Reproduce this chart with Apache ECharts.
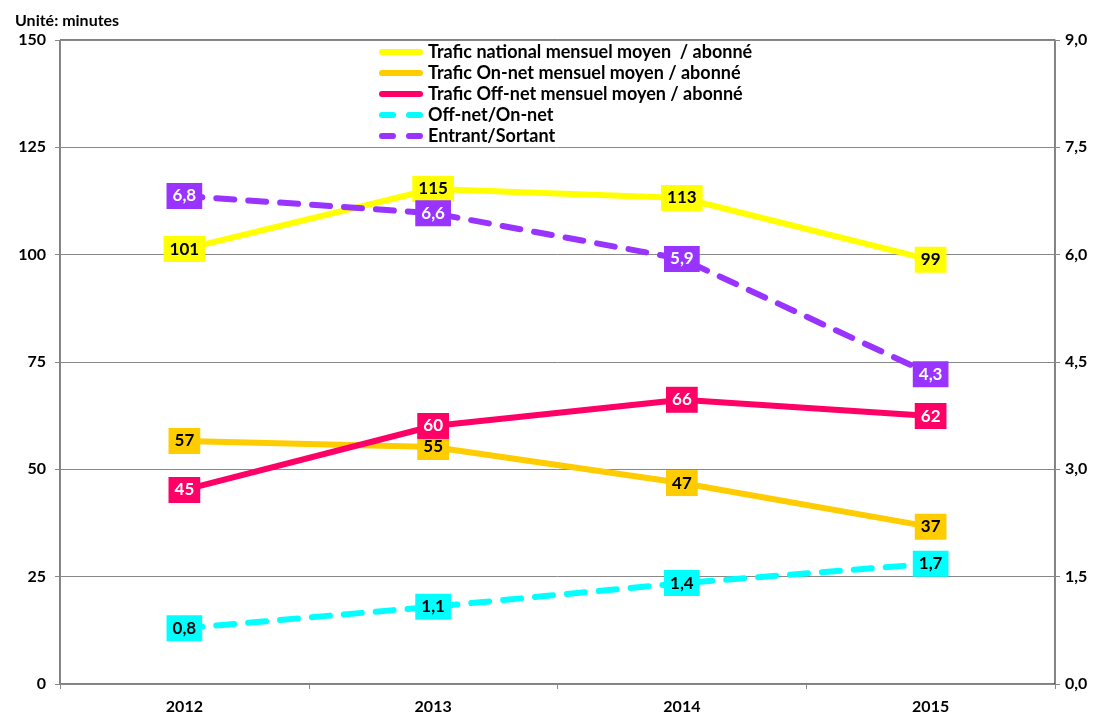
<!DOCTYPE html>
<html><head><meta charset="utf-8">
<script src="https://cdn.jsdelivr.net/npm/echarts@6/dist/echarts.min.js"></script>
<style>html,body{margin:0;padding:0;background:#fff}#c{width:1099px;height:716px}</style>
</head><body><div id="c"></div>
<script>
const categories = ['2012', '2013', '2014', '2015'];
const national = [101.3, 115.3, 113.2, 98.8];
const onNet = [56.6, 55.2, 46.8, 36.6];
const offNet = [45.2, 60.1, 66.2, 62.4];
const offOnRatio = [0.78, 1.08, 1.41, 1.68];
const entrantSortant = [6.82, 6.58, 5.94, 4.33];
const leftTicks = [0, 25, 50, 75, 100, 125, 150];
const rightTicks = [0, 1.5, 3, 4.5, 6, 7.5, 9];

const FONT = 'Lato';
const chart = echarts.init(document.getElementById('c'));

const SOLID_ICON = 'path://M3,0H41A3,3 0 0 1 41,6H3A3,3 0 0 1 3,0Z';
const DASH_ICON = 'path://M3,0H14A3,3 0 0 1 14,6H3A3,3 0 0 1 3,0Z M30,0H41A3,3 0 0 1 41,6H30A3,3 0 0 1 30,0Z';

function lbl(bg, fg, fmt) {
  return {
    show: true, position: 'inside', backgroundColor: bg, color: fg,
    fontFamily: FONT, fontWeight: 'bold', fontSize: 17, lineHeight: 19,
    padding: [4, 6, 3, 6], formatter: fmt
  };
}
const intFmt = p => Math.round(p.value).toString();
const decFmt = p => p.value.toFixed(1).replace('.', ',');

function series(name, data, color, textColor, dashed, yIdx, fmt) {
  return {
    name, type: 'line', data, yAxisIndex: yIdx,
    symbol: 'circle', symbolSize: 1, showSymbol: true, itemStyle: { color },
    lineStyle: { color, width: 6, type: dashed ? [18, 14] : 'solid', cap: 'round' },
    label: lbl(color, textColor, fmt), emphasis: { disabled: true }, z: 3
  };
}

const names = ['Trafic national mensuel moyen  / abonné', 'Trafic On-net mensuel moyen / abonné',
  'Trafic Off-net mensuel moyen / abonné', 'Off-net/On-net', 'Entrant/Sortant'];

chart.setOption({
  animation: false,
  title: { text: 'Unité: minutes', left: 10, top: 8,
    textStyle: { fontFamily: FONT, fontWeight: 'bold', fontSize: 16, color: '#000' } },
  grid: { left: 60, right: 44, top: 40, bottom: 32, show: true, borderColor: '#000', borderWidth: 1 },
  legend: {
    orient: 'vertical', left: 374, top: 38, itemGap: 3, itemWidth: 44, itemHeight: 6,
    textStyle: { fontFamily: FONT, fontWeight: 'bold', fontSize: 18, lineHeight: 18, color: '#000' },
    data: names.map((n, i) => ({ name: n, icon: i >= 3 ? DASH_ICON : SOLID_ICON }))
  },
  xAxis: {
    type: 'category', data: categories, boundaryGap: true,
    axisLine: { lineStyle: { color: '#888' } },
    axisTick: { show: true, length: 5, lineStyle: { color: '#888' } },
    axisLabel: { fontFamily: FONT, fontWeight: 'bold', fontSize: 16, color: '#000', margin: 15 }
  },
  yAxis: [
    { type: 'value', min: 0, max: 150, interval: 25,
      axisLine: { show: true, lineStyle: { color: '#888' } },
      axisTick: { show: true, length: 5, lineStyle: { color: '#888' } },
      splitLine: { show: true, lineStyle: { color: '#888' } },
      axisLabel: { fontFamily: FONT, fontWeight: 'bold', fontSize: 16, color: '#000', margin: 14,
        formatter: v => leftTicks.includes(v) ? String(v) : '' } },
    { type: 'value', min: 0, max: 9, interval: 1.5, position: 'right',
      axisLine: { show: true, lineStyle: { color: '#888' } },
      axisTick: { show: true, length: 5, lineStyle: { color: '#888' } },
      splitLine: { show: false },
      axisLabel: { fontFamily: FONT, fontWeight: 'bold', fontSize: 16, color: '#000', margin: 10,
        formatter: v => rightTicks.includes(v) ? v.toFixed(1).replace('.', ',') : '' } }
  ],
  series: [
    series(names[0], national, '#FFFF00', '#000', false, 0, intFmt),
    series(names[1], onNet, '#FFCC00', '#000', false, 0, intFmt),
    series(names[2], offNet, '#FF0066', '#fff', false, 0, intFmt),
    series(names[3], offOnRatio, '#00FFFF', '#000', true, 1, decFmt),
    series(names[4], entrantSortant, '#9933FF', '#fff', true, 1, decFmt)
  ]
});
</script></body></html>
